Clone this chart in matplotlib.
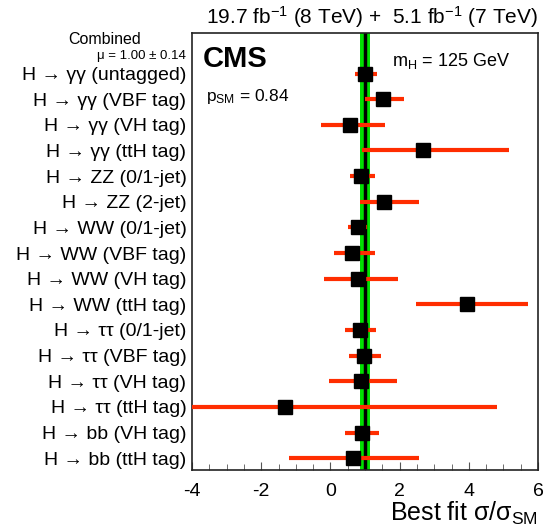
import matplotlib.pyplot as plt
from matplotlib.ticker import MultipleLocator

plt.rcParams['font.family'] = ['Liberation Sans', 'DejaVu Sans']
plt.rcParams['mathtext.fontset'] = 'custom'
plt.rcParams['mathtext.rm'] = 'Liberation Sans'
plt.rcParams['mathtext.it'] = 'Liberation Sans'
plt.rcParams['axes.unicode_minus'] = False

labels = ['H → γγ (untagged)', 'H → γγ (VBF tag)', 'H → γγ (VH tag)', 'H → γγ (ttH tag)',
          'H → ZZ (0/1-jet)', 'H → ZZ (2-jet)',
          'H → WW (0/1-jet)', 'H → WW (VBF tag)', 'H → WW (VH tag)', 'H → WW (ttH tag)',
          'H → ττ (0/1-jet)', 'H → ττ (VBF tag)', 'H → ττ (VH tag)', 'H → ττ (ttH tag)',
          'H → bb (VH tag)', 'H → bb (ttH tag)']
mu = [1.00, 1.53, 0.58, 2.68, 0.88, 1.56, 0.79, 0.63, 0.81, 3.95, 0.85, 0.97, 0.87, -1.31, 0.90, 0.66]
lo = [0.71, 1.00, -0.27, 0.90, 0.57, 0.85, 0.52, 0.10, -0.18, 2.46, 0.42, 0.53, -0.05, -4.00, 0.41, -1.20]
hi = [1.35, 2.12, 1.58, 5.16, 1.29, 2.57, 1.05, 1.29, 1.96, 5.70, 1.33, 1.45, 1.93, 4.82, 1.41, 2.56]
mu_comb = 1.00
err_comb = 0.14

fig = plt.figure(figsize=(5.5, 5.32), dpi=100)
ax = fig.add_axes([192/550, 1 - 470/532, 346/550, 437/532])

ax.axvspan(mu_comb - err_comb, mu_comb + err_comb, color='#00e000', zorder=1, lw=0)
ax.axvline(mu_comb, color='black', lw=2.5, zorder=2)

ys = list(range(len(labels)))
for y, m, l, h in zip(ys, mu, lo, hi):
    ax.plot([l, h], [y, y], color='#ff2d00', lw=3, solid_capstyle='butt', zorder=3)
ax.plot(mu, ys, 's', color='black', ms=9.5, zorder=4)

ax.set_xlim(-4, 6)
ax.set_ylim(15.46, -1.58)
ax.set_yticks(ys)
ax.set_yticklabels(labels, fontsize=14)
ax.tick_params(axis='y', length=0, pad=4)
ax.xaxis.set_major_locator(MultipleLocator(2))
ax.xaxis.set_minor_locator(MultipleLocator(0.5))
ax.tick_params(axis='x', which='major', direction='in', length=6, labelsize=14, color='#555555', pad=9)
ax.tick_params(axis='x', which='minor', direction='in', length=4, color='#555555')
for s in ax.spines.values():
    s.set_linewidth(1.2)
    s.set_color('#222222')

ax.set_xlabel(r'Best fit $\sigma/\sigma_{\mathrm{SM}}$', fontsize=18, loc='right', labelpad=0)

fig.text(538/550, 1 - 17/532, r'19.7 fb$^{-1}$ (8 TeV) +  5.1 fb$^{-1}$ (7 TeV)',
         ha='right', va='center', fontsize=15)
ax.text(0.03, 0.94, 'CMS', transform=ax.transAxes, fontsize=21, fontweight='bold', va='center')
ax.text(0.04, 0.855, r'p$_{\mathrm{SM}}$ = 0.84', transform=ax.transAxes, fontsize=12.5, va='center')
ax.text(0.578, 0.935, r'm$_{\mathrm{H}}$ = 125 GeV', transform=ax.transAxes, fontsize=13, va='center')
fig.text(105/550, 1 - 40/532, 'Combined', ha='center', va='center', fontsize=11.5)
fig.text(186/550, 1 - 56/532, 'μ = 1.00 ± 0.14', ha='right', va='center', fontsize=9.5)

fig.savefig('out.png', dpi=100)
